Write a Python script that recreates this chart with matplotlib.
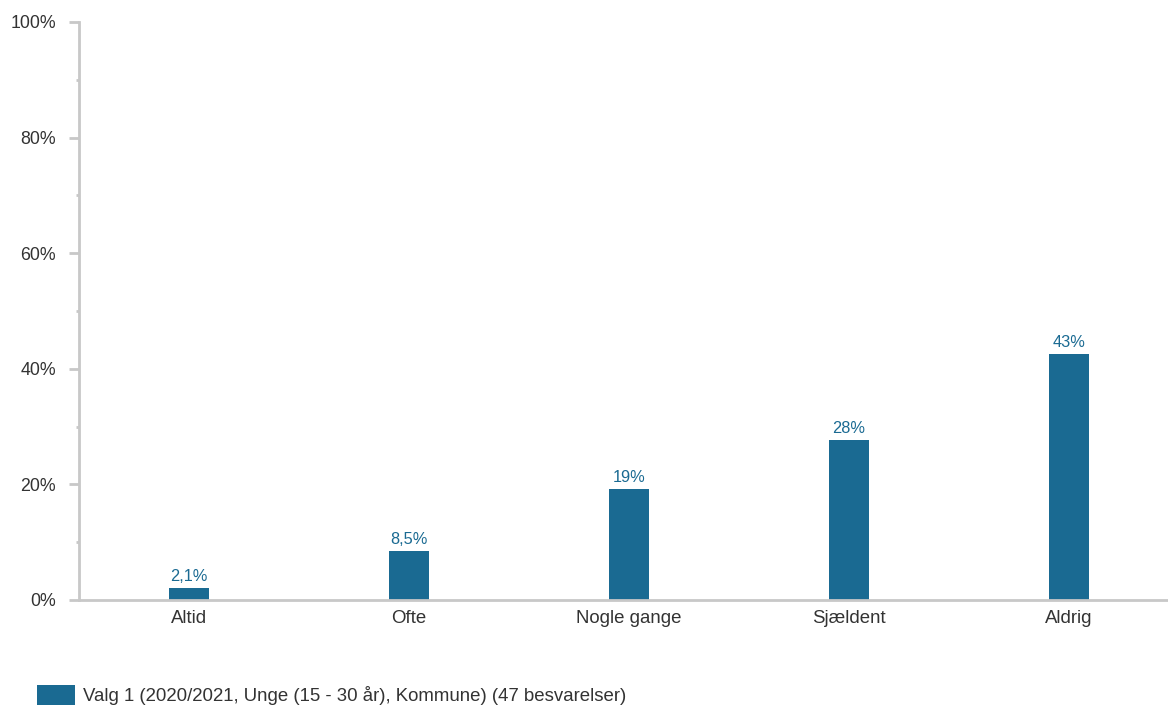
import numpy as np
import matplotlib.pyplot as plt
from matplotlib.ticker import MultipleLocator, FuncFormatter

categories = ['Altid', 'Ofte', 'Nogle gange', 'Sjældent', 'Aldrig']
values = [2.13, 8.51, 19.15, 27.66, 42.55]
value_labels = ['2,1%', '8,5%', '19%', '28%', '43%']
series_name = 'Valg 1 (2020/2021, Unge (15 - 30 år), Kommune) (47 besvarelser)'

bar_color = '#1a6a92'
axis_color = '#c8c8c8'
text_color = '#333333'

plt.rcParams['font.family'] = ['Liberation Sans', 'DejaVu Sans']

fig = plt.figure(figsize=(11.68, 7.07), dpi=100)
ax = fig.add_axes([79 / 1168, 1 - 600 / 707, 1 - 79 / 1168, (600 - 22) / 707])

x = np.arange(len(categories))
bars = ax.bar(x, values, width=0.186, color=bar_color, label=series_name, zorder=2)

for b, lab in zip(bars, value_labels):
    ax.annotate(lab, (b.get_x() + b.get_width() / 2, b.get_height()),
                xytext=(0, 3), textcoords='offset points',
                ha='center', va='bottom', fontsize=11.8, color=bar_color)

ax.set_xlim(-0.5, 4.45)
ax.set_ylim(0, 100)
ax.yaxis.set_major_locator(MultipleLocator(20))
ax.yaxis.set_minor_locator(MultipleLocator(10))
ax.yaxis.set_major_formatter(FuncFormatter(lambda v, p: f'{v:.0f}%'))
ax.set_xticks(x)
ax.set_xticklabels(categories)

for s in ['top', 'right']:
    ax.spines[s].set_visible(False)
for s in ['left', 'bottom']:
    ax.spines[s].set_color(axis_color)
    ax.spines[s].set_linewidth(2)

ax.tick_params(axis='y', which='major', length=7, width=2, color=axis_color,
               labelsize=12.8, labelcolor=text_color, pad=9.5)
ax.tick_params(axis='y', which='minor', length=2.5, width=2, color=axis_color)
ax.tick_params(axis='x', length=0, labelsize=13.4, labelcolor=text_color, pad=7.5)

fig.legend(loc='center left', bbox_to_anchor=(0.024, 1 - 695 / 707),
           frameon=False, fontsize=13.4, handlelength=2.0, handleheight=1.35,
           handletextpad=0.45, borderpad=0, labelcolor=text_color)

fig.savefig('out.png', dpi=100)
